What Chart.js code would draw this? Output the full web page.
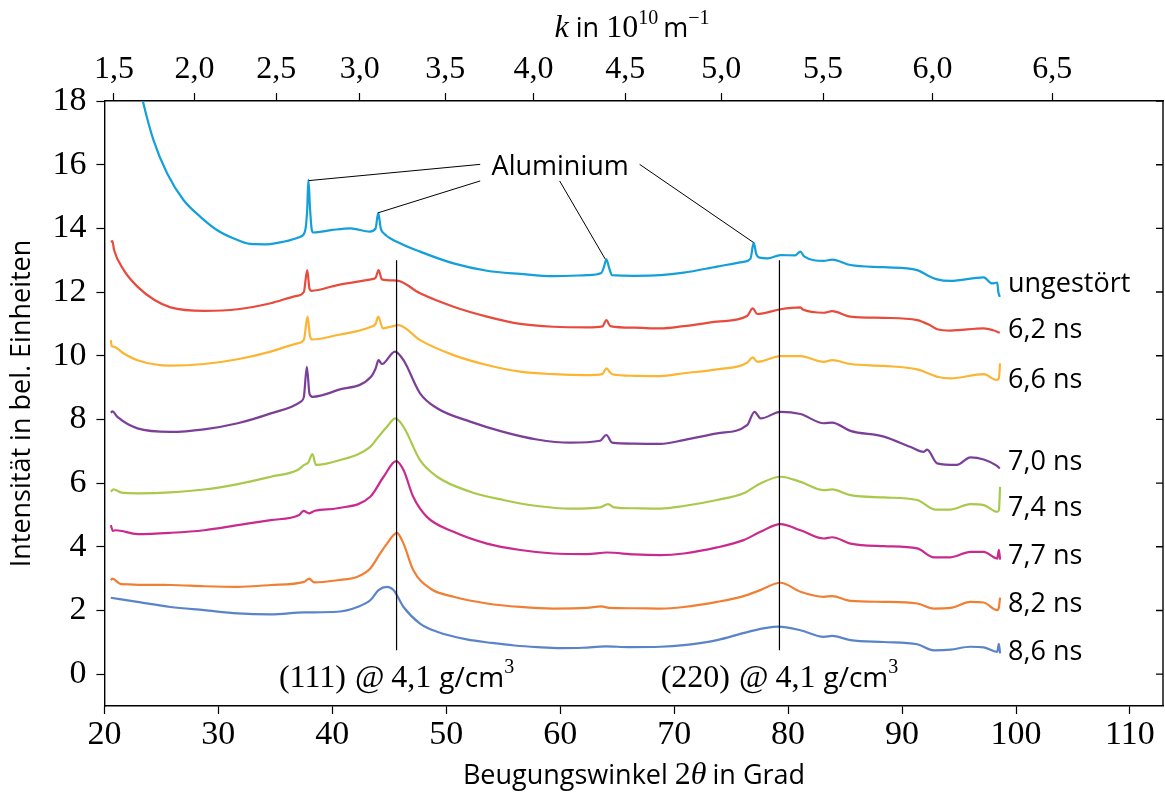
<!DOCTYPE html>
<html lang="de">
<head>
<meta charset="UTF-8">
<title>Beugungsbild</title>
<style>
    * { margin: 0; padding: 0; box-sizing: border-box; }
    body { background: #fff; width: 1165px; height: 796px; overflow: hidden; }
    #wrap { width: 1165px; height: 796px; }
</style>
<script src="https://cdn.jsdelivr.net/npm/chart.js"></script>
</head>
<body>
<div id="wrap"><canvas id="chart" width="1165" height="796"></canvas></div>
<script>
    // Achsen
    const xTicks = [20, 30, 40, 50, 60, 70, 80, 90, 100, 110];
    const yTicks = [0, 2, 4, 6, 8, 10, 12, 14, 16, 18];
    const kTicks = [1.5, 2.0, 2.5, 3.0, 3.5, 4.0, 4.5, 5.0, 5.5, 6.0, 6.5];
    const LAMBDA = 1.515; // Wellenlänge in 10^-10 m, Umrechnung k <-> 2theta

    const seriesNames = ['ungestört', '6,2 ns', '6,6 ns', '7,0 ns', '7,4 ns', '7,7 ns', '8,2 ns', '8,6 ns'];

    // Messkurven [2theta, Intensität]
    const ungestoert = [[22.4,19.6],[23.37,18.0],[24.3,16.78],[25.5,15.73],[26.94,14.89],[28.4,14.37],[29.87,13.95],[31.3,13.69],[32.8,13.51],[34.26,13.5],[35.7,13.58],[37.2,13.74],[37.6,13.9],[37.8,14.6],[37.9,15.52],[38.05,14.6],[38.2,13.95],[38.35,13.87],[40,13.95],[41.6,14.0],[43.3,13.9],[43.8,14.0],[44.03,14.49],[44.25,14.0],[44.5,13.85],[45.67,13.58],[47.7,13.27],[50.64,12.9],[53.57,12.67],[56.5,12.57],[59.4,12.5],[62.35,12.53],[63.6,12.6],[63.85,12.8],[64.05,13.03],[64.3,12.75],[64.55,12.53],[66.5,12.51],[68.8,12.53],[70.84,12.61],[73.77,12.8],[76.1,12.95],[76.7,13.05],[76.98,13.55],[77.2,13.2],[77.5,13.08],[78.2,13.06],[79.33,13.16],[80.6,13.15],[81.08,13.27],[81.4,13.12],[83.13,12.98],[83.86,13.02],[85.47,12.85],[88.4,12.78],[91.33,12.69],[92.2,12.53],[93.08,12.4],[94.25,12.35],[97.17,12.46],[97.9,12.27],[98.35,12.3],[98.45,12.0],[98.58,11.85]];
    const ns62 = [[20.56,13.58],[20.7,13.6],[20.85,13.32],[21.7,12.69],[22.9,12.17],[24.4,11.75],[25.8,11.52],[28.75,11.41],[31.7,11.46],[34.6,11.65],[36.9,11.88],[37.5,12.0],[37.8,12.69],[38.0,12.1],[38.17,12.04],[40.45,12.22],[43.4,12.4],[43.8,12.45],[44.06,12.69],[44.35,12.4],[45.67,12.36],[47.7,11.96],[50.64,11.54],[53.57,11.23],[56.5,11.0],[59.4,10.91],[62.35,10.89],[63.7,10.92],[64.05,11.12],[64.4,10.93],[66.5,10.88],[68.8,10.86],[70.84,10.93],[73.77,11.07],[76.4,11.25],[76.9,11.49],[77.3,11.31],[77.8,11.33],[79.33,11.46],[81.08,11.52],[81.3,11.45],[83.13,11.35],[83.86,11.4],[85.47,11.23],[88.4,11.19],[91.33,11.12],[92.5,10.95],[93.08,10.83],[94.25,10.79],[97.17,10.86],[98.0,10.8],[98.58,10.72]];
    const ns66 = [[20.56,10.49],[20.65,10.3],[20.85,10.28],[21.7,10.07],[22.9,9.86],[25.8,9.69],[28.75,9.74],[31.7,9.89],[34.6,10.13],[36.95,10.39],[37.5,10.5],[37.83,11.23],[38.05,10.6],[38.26,10.51],[40.46,10.65],[43.4,10.91],[43.8,11.0],[44.03,11.23],[44.44,10.86],[45.1,10.91],[45.8,10.96],[47.7,10.49],[50.64,10.02],[53.57,9.71],[56.5,9.5],[59.4,9.42],[62.35,9.39],[63.7,9.42],[64.05,9.6],[64.55,9.42],[66.5,9.37],[68.8,9.36],[70.84,9.45],[73.77,9.57],[76.4,9.78],[76.9,9.95],[77.3,9.81],[79.33,9.99],[81.08,9.99],[83.13,9.81],[83.86,9.86],[85.47,9.74],[88.4,9.68],[91.33,9.57],[93.08,9.34],[94.25,9.29],[97.17,9.42],[98.3,9.24],[98.5,9.3],[98.6,9.76]];
    const ns70 = [[20.56,8.21],[20.7,8.25],[21.14,8.08],[22.9,7.72],[25.8,7.61],[28.75,7.69],[31.7,7.88],[34.6,8.19],[37.24,8.56],[37.5,8.7],[37.77,9.65],[38.0,8.8],[38.26,8.71],[40.46,8.92],[43.4,9.34],[43.8,9.6],[44.06,9.86],[44.35,9.74],[45.5,10.13],[46.25,9.86],[47.7,8.82],[49.2,8.35],[52.1,7.93],[55.0,7.61],[57.96,7.37],[60.9,7.27],[63.5,7.33],[64.05,7.51],[64.55,7.27],[66.5,7.24],[68.8,7.23],[70.84,7.35],[73.77,7.56],[76.4,7.82],[77.05,8.24],[77.6,8.03],[79.33,8.24],[81.08,8.17],[83.13,7.88],[83.86,7.9],[85.47,7.64],[88.4,7.46],[90.7,7.14],[91.9,6.98],[92.2,7.05],[93.08,6.62],[94.8,6.57],[96.0,6.81],[97.17,6.74],[98.3,6.55],[98.58,6.46]];
    const ns74 = [[20.56,5.73],[20.8,5.8],[21.5,5.7],[22.9,5.68],[25.8,5.71],[28.75,5.8],[31.7,5.97],[34.6,6.2],[36.95,6.41],[37.53,6.57],[37.9,6.65],[38.26,6.91],[38.56,6.57],[40.46,6.7],[43.33,7.14],[44.06,7.46],[44.8,7.77],[45.52,8.03],[46.25,7.77],[47.7,6.72],[49.2,6.2],[52.1,5.73],[55.0,5.47],[57.96,5.28],[60.9,5.2],[63.5,5.24],[64.2,5.34],[64.7,5.24],[66.5,5.21],[68.8,5.2],[70.84,5.28],[73.77,5.47],[76.1,5.68],[77.57,5.99],[79.33,6.2],[81.08,6.04],[83.13,5.78],[83.86,5.8],[85.47,5.62],[88.4,5.55],[91.33,5.47],[92.9,5.17],[94.25,5.17],[96.0,5.34],[97.17,5.31],[98.35,5.1],[98.5,5.15],[98.6,5.88]];
    const ns77 = [[20.56,4.68],[20.75,4.5],[21.0,4.52],[22.9,4.4],[25.8,4.44],[28.75,4.52],[31.7,4.68],[34.6,4.84],[37.1,5.0],[37.47,5.13],[37.97,5.05],[38.47,5.13],[40.46,5.21],[43.33,5.57],[44.5,6.2],[45.6,6.69],[46.25,6.41],[47.1,5.57],[48.3,4.94],[50.64,4.47],[53.57,4.1],[56.5,3.9],[59.4,3.79],[62.35,3.77],[64.1,3.82],[66.5,3.76],[68.8,3.74],[70.84,3.79],[73.77,3.98],[76.1,4.21],[77.57,4.47],[79.33,4.71],[81.08,4.52],[83.13,4.26],[83.86,4.3],[85.47,4.1],[88.4,4.02],[91.33,3.95],[92.8,3.67],[94.25,3.67],[96.0,3.84],[97.17,3.84],[98.35,3.63],[98.5,3.9],[98.6,3.6]];
    const ns82 = [[20.56,2.95],[20.7,3.0],[21.44,2.83],[25.8,2.8],[28.75,2.76],[31.7,2.74],[34.6,2.8],[37.53,2.9],[37.97,3.0],[38.41,2.88],[40.46,2.95],[42.2,3.06],[43.33,3.32],[44.2,3.79],[44.8,4.1],[45.67,4.44],[46.25,4.1],[47.1,3.27],[48.6,2.69],[50.64,2.43],[53.57,2.22],[56.5,2.11],[59.4,2.06],[62.35,2.08],[63.6,2.13],[64.3,2.08],[66.5,2.07],[68.8,2.06],[70.84,2.11],[73.77,2.27],[76.1,2.45],[77.57,2.64],[79.33,2.87],[81.08,2.59],[83.13,2.43],[83.86,2.45],[85.47,2.3],[88.4,2.27],[91.33,2.22],[92.8,2.06],[94.25,2.08],[96.0,2.27],[97.17,2.25],[98.35,2.01],[98.5,2.1],[98.6,2.4]];
    const ns86 = [[20.56,2.4],[22.9,2.27],[25.8,2.11],[28.75,2.01],[31.7,1.91],[34.6,1.88],[37.53,1.94],[40.46,1.96],[42.2,2.11],[43.33,2.32],[44.06,2.64],[44.8,2.74],[45.37,2.64],[46.25,2.11],[47.7,1.59],[49.2,1.33],[51.8,1.09],[54,0.98],[56,0.9],[58,0.85],[60,0.82],[62,0.83],[64,0.87],[66,0.85],[68.8,0.86],[70.84,0.91],[73.77,1.07],[76.5,1.33],[79.1,1.49],[81.08,1.38],[83.13,1.17],[83.86,1.2],[85.47,1.07],[88.4,1.01],[91.33,0.94],[92.8,0.75],[94.25,0.77],[96.0,0.86],[97.17,0.84],[98.35,0.7],[98.5,0.95],[98.6,0.65]];

    const allSeries = [ungestoert, ns62, ns66, ns70, ns74, ns77, ns82, ns86];
    const colors = ['#139fda', '#e84a3c', '#fbb533', '#7b3f98', '#a9c94b', '#c92a8c', '#f17f33', '#5a84c9'];

    // Beschriftungen
    const labelY = [12.25, 10.81, 9.24, 6.66, 5.22, 3.71, 2.2, 0.69];
    const aluPeaks = [[37.93, 15.5], [44.03, 14.49], [63.96, 13.03], [76.95, 13.56]];
    const reflexX = [45.64, 79.24];

    const SERIF = '"Liberation Serif", serif';
    const SANS = '"Open Sans", sans-serif';

    function twoTheta(k) {
        return 2 * Math.asin(k * LAMBDA / (4 * Math.PI)) * 180 / Math.PI;
    }

    // Text aus mehreren Stücken (Schrift / Hochstellung)
    function rich(ctx, parts, x, base, align) {
        let w = 0;
        parts.forEach(p => { ctx.font = p[1]; w += ctx.measureText(p[0]).width + (p[3] || 0); });
        let cx = align === 'center' ? x - w / 2 : x;
        parts.forEach(p => {
            ctx.font = p[1];
            ctx.fillText(p[0], cx, base + (p[2] || 0));
            cx += ctx.measureText(p[0]).width + (p[3] || 0);
        });
    }

    const overlay = {
        id: 'overlay',
        afterDraw(chart) {
            const { ctx, chartArea: a } = chart;
            const x = chart.scales.x, y = chart.scales.y;
            ctx.save();
            ctx.strokeStyle = '#000';
            ctx.fillStyle = '#000';

            // rechter Rahmen mit Innenstrichen
            ctx.lineWidth = 1.4;
            ctx.beginPath();
            ctx.moveTo(a.right, a.top);
            ctx.lineTo(a.right, a.bottom);
            yTicks.forEach(v => {
                const py = y.getPixelForValue(v);
                ctx.moveTo(a.right, py);
                ctx.lineTo(a.right - 7, py);
            });
            ctx.stroke();

            // Reflexlinien
            ctx.lineWidth = 1.2;
            ctx.beginPath();
            reflexX.forEach(v => {
                ctx.moveTo(x.getPixelForValue(v), y.getPixelForValue(13.0));
                ctx.lineTo(x.getPixelForValue(v), y.getPixelForValue(0.75));
            });
            ctx.stroke();

            // Aluminium Hinweislinien
            const anchors = [[52.98, 16.01], [52.98, 15.49], [59.95, 15.49], [66.97, 16.01]];
            ctx.lineWidth = 1;
            ctx.beginPath();
            aluPeaks.forEach((p, i) => {
                ctx.moveTo(x.getPixelForValue(anchors[i][0]), y.getPixelForValue(anchors[i][1]));
                ctx.lineTo(x.getPixelForValue(p[0]), y.getPixelForValue(p[1]));
            });
            ctx.stroke();

            ctx.textBaseline = 'alphabetic';
            ctx.textAlign = 'left';
            ctx.font = '27px ' + SANS;
            const aw = ctx.measureText('Aluminium').width;
            ctx.fillText('Aluminium', x.getPixelForValue(60.0) - aw / 2, y.getPixelForValue(15.68));

            // Kurvennamen
            ctx.textBaseline = 'middle';
            seriesNames.forEach((n, i) => {
                ctx.fillText(n, 1008, y.getPixelForValue(labelY[i]));
            });
            ctx.textBaseline = 'alphabetic';

            // Reflexbeschriftung
            ['(111)', '(220)'].forEach((hkl, i) => {
                rich(ctx, [
                    [hkl, '32px ' + SERIF, 0, 9],
                    ['@', '32px ' + SERIF, 0, 7],
                    ['4,1', '32px ' + SERIF, 0, 8],
                    ['g/cm', '28px ' + SANS, 0, 0],
                    ['3', '20px ' + SERIF, -14, 0]
                ], x.getPixelForValue(reflexX[i]), y.getPixelForValue(-0.4), 'center');
            });

            // obere Achsenbeschriftung
            rich(ctx, [
                ['k', 'italic 32px ' + SERIF, 0, 0],
                [' in ', '27px ' + SANS, 0, 0],
                ['10', '32px ' + SERIF, 0, 0],
                ['10', '20px ' + SERIF, -13, 5],
                ['m', '27px ' + SANS, 0, 0],
                ['\u22121', '20px ' + SERIF, -13, 0]
            ], 632, 37, 'center');

            // untere Achsenbeschriftung
            rich(ctx, [
                ['Beugungswinkel ', '27px ' + SANS, 0, 0],
                ['2', '32px ' + SERIF, 0, 0],
                ['\u03b8', 'italic 32px ' + SERIF, 0, 6],
                ['in Grad', '27px ' + SANS, 0, 0]
            ], 634, 784, 'center');
            ctx.restore();
        }
    };

    const datasets = allSeries.map((s, i) => ({
        label: seriesNames[i],
        data: s.map(p => ({ x: p[0], y: p[1] })),
        borderColor: colors[i],
        borderWidth: 2.2,
        pointRadius: 0,
        fill: false,
        cubicInterpolationMode: 'monotone',
        clip: 0
    }));

    const axisGrid = { display: true, drawOnChartArea: false, drawTicks: true, tickLength: 8, tickColor: '#000', tickWidth: 1.2 };
    const axisBorder = { display: true, color: '#000', width: 1.4 };

    new Chart(document.getElementById('chart'), {
        type: 'line',
        data: { datasets },
        options: {
            responsive: false,
            animation: false,
            layout: { padding: { left: 6, right: 2, top: 46.6, bottom: 40 } },
            plugins: { legend: { display: false }, tooltip: { enabled: false } },
            scales: {
                x: {
                    type: 'linear', position: 'bottom', min: 20, max: 112.9,
                    afterBuildTicks: s => { s.ticks = xTicks.map(v => ({ value: v })); },
                    ticks: { font: { family: SERIF, size: 34, lineHeight: 1.0 }, color: '#000', padding: 4, autoSkip: false, maxRotation: 0 },
                    grid: axisGrid, border: axisBorder
                },
                xTop: {
                    type: 'linear', position: 'top', min: 20, max: 112.9,
                    afterBuildTicks: s => { s.ticks = kTicks.map(k => ({ value: twoTheta(k) })); },
                    ticks: {
                        font: { family: SERIF, size: 32 }, color: '#000', padding: 4, autoSkip: false, maxRotation: 0,
                        callback: (v, i) => kTicks[i].toFixed(1).replace('.', ',')
                    },
                    grid: axisGrid, border: axisBorder
                },
                y: {
                    type: 'linear', min: -1, max: 18,
                    afterBuildTicks: s => { s.ticks = yTicks.map(v => ({ value: v })); },
                    ticks: { font: { family: SERIF, size: 34 }, color: '#000', padding: 10, autoSkip: false },
                    grid: axisGrid, border: axisBorder,
                    title: { display: true, text: 'Intensität in bel. Einheiten', font: { family: SANS, size: 27 }, color: '#000', padding: { top: 0, bottom: 4 } }
                }
            }
        },
        plugins: [overlay]
    });
</script>
</body>
</html>
